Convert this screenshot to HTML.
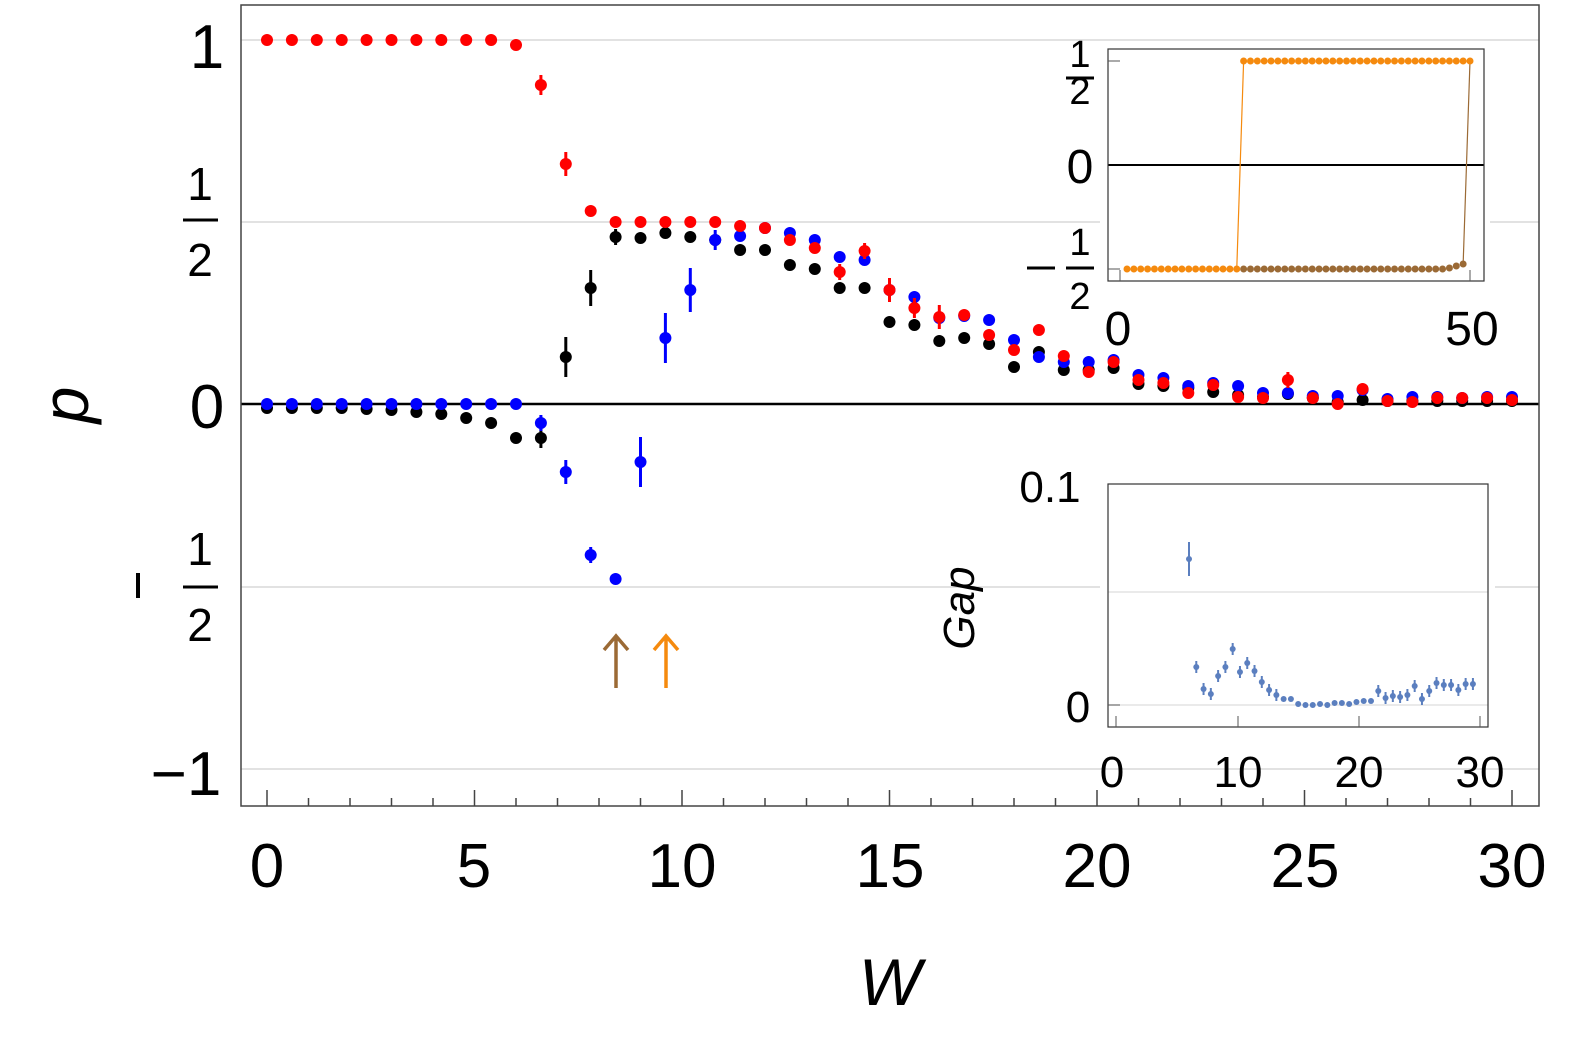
<!DOCTYPE html>
<html><head><meta charset="utf-8"><style>
body{margin:0;background:#fff}
svg text{font-family:"Liberation Sans",sans-serif}
</style></head><body>
<svg id="s" width="1578" height="1038" xmlns="http://www.w3.org/2000/svg">
<rect width="1578" height="1038" fill="#fff"/>
<g stroke="#d9d9d9" stroke-width="1.5">
<line x1="241" x2="1539" y1="40" y2="40"/><line x1="241" x2="1539" y1="222" y2="222"/>
<line x1="241" x2="1539" y1="587" y2="587"/><line x1="241" x2="1539" y1="769" y2="769"/>
</g>
<line x1="241" x2="1539" y1="404" y2="404" stroke="#000" stroke-width="2.5"/>
<rect x="241" y="5" width="1298" height="801" fill="none" stroke="#444" stroke-width="1.5"/>
<g id="ticks" stroke="#444" stroke-width="1.5"></g>
<g id="main"></g>
<g font-size="62" fill="#000" text-anchor="middle">
<text x="267" y="887">0</text><text x="474" y="887">5</text><text x="682" y="887">10</text>
<text x="890" y="887">15</text><text x="1097" y="887">20</text><text x="1305" y="887">25</text><text x="1512" y="887">30</text>
<text x="207" y="68">1</text><text x="207" y="428">0</text>
<text x="200" y="200" font-size="46">1</text><line x1="183" x2="218" y1="220" y2="220" stroke="#000" stroke-width="3"/><text x="200" y="276" font-size="46">2</text>
<text x="200" y="565" font-size="46">1</text><line x1="183" x2="218" y1="587" y2="587" stroke="#000" stroke-width="3"/><text x="200" y="641" font-size="46">2</text>
<line x1="138" x2="138" y1="573" y2="598" stroke="#000" stroke-width="4"/>
<text x="186" y="795">−1</text>
<text x="890" y="1005" font-style="italic" font-size="66">W</text>
<text x="0" y="0" font-style="italic" font-size="66" transform="translate(88,405) rotate(-90)">p</text>
</g>
<g stroke-width="3.5" fill="none">
<path d="M616 688V638M604 650L616 636L628 650" stroke="#9b6a35"/>
<path d="M666 688V638M654 650L666 636L678 650" stroke="#f58a0e"/>
</g>
<!-- inset 1 -->
<rect x="1100" y="46" width="390" height="240" fill="#fff"/>
<line x1="1108" x2="1484" y1="165" y2="165" stroke="#000" stroke-width="2"/>
<rect x="1108" y="49" width="376" height="232" fill="none" stroke="#333" stroke-width="1.2"/>
<g stroke="#555" stroke-width="1"><line x1="1108" x2="1120" y1="61" y2="61"/><line x1="1108" x2="1120" y1="269" y2="269"/><line x1="1120" x2="1120" y1="281" y2="270"/><line x1="1470" x2="1470" y1="281" y2="270"/></g>
<g id="in1"></g>
<g font-size="48" fill="#000" text-anchor="middle">
<text x="1080" y="67" font-size="38">1</text><line x1="1066" x2="1094" y1="78" y2="78" stroke="#000" stroke-width="3"/><text x="1080" y="104" font-size="38">2</text>
<text x="1080" y="183">0</text>
<text x="1080" y="255" font-size="38">1</text><line x1="1066" x2="1094" y1="268" y2="268" stroke="#000" stroke-width="3"/><text x="1080" y="309" font-size="38">2</text>
<line x1="1027" x2="1055" y1="268" y2="268" stroke="#000" stroke-width="3"/>
<text x="1118" y="345">0</text><text x="1472" y="345">50</text>
</g>
<!-- inset 2 -->
<rect x="1100" y="478" width="395" height="255" fill="#fff"/>
<line x1="1108" x2="1488" y1="592" y2="592" stroke="#ddd" stroke-width="1.2"/>
<line x1="1108" x2="1488" y1="705" y2="705" stroke="#ddd" stroke-width="1.2"/>
<rect x="1108" y="484" width="380" height="243" fill="none" stroke="#333" stroke-width="1.2"/>
<g stroke="#555" stroke-width="1"><line x1="1108" x2="1120" y1="705" y2="705"/><line x1="1116" x2="1116" y1="727" y2="716"/><line x1="1238" x2="1238" y1="727" y2="716"/><line x1="1359" x2="1359" y1="727" y2="716"/><line x1="1480" x2="1480" y1="727" y2="716"/></g>
<g id="in2"></g>
<g font-size="44" fill="#000" text-anchor="middle">
<text x="1050" y="502">0.1</text><text x="1078" y="722">0</text>
<text x="1112" y="787">0</text><text x="1238" y="787">10</text><text x="1359" y="787">20</text><text x="1480" y="787">30</text>
<text x="0" y="0" font-style="italic" transform="translate(974,608) rotate(-90)">Gap</text>
</g>
</svg>
<script>
const NS="http://www.w3.org/2000/svg";
function el(p,t,a){const e=document.createElementNS(NS,t);for(const k in a)e.setAttribute(k,a[k]);p.appendChild(e);return e;}
const tk=document.getElementById('ticks');
for(let w=0;w<=30;w++){const x=267+41.5*w;el(tk,'line',{x1:x,x2:x,y1:806,y2:w%5?798:790});}
const red=[40,40,40,40,40,40,40,40,40,40,45,85,164,211,222,222,222,222,222,226,228,240,248,272,251,290,308,317,315,335,350,330,356,372,362,380,383,393,385,397,398,380,398,404,389,401,402,398,398,398,400];
const blk=[408,408,408,408,409,410,412,414,418,423,438,438,357,288,237,238,233,237,240,250,250,265,269,288,288,322,325,341,338,344,367,352,370,370,368,384,386,388,392,395,397,394,398,402,400,401,401,401,401,401,401];
const blu=[404,404,404,404,404,404,404,404,404,404,404,423,472,555,579,462,338,290,240,236,228,233,240,257,260,290,297,318,316,320,340,357,362,362,360,375,378,386,383,386,393,393,396,396,390,399,397,397,398,397,397];
const errB={11:8,12:12,13:8,15:25,16:25,17:22,18:10};
const errK={11:10,12:20,13:18,14:8};
const errR={11:10,12:12,23:8,24:8,25:12,26:10,27:12,41:8};
const m=document.getElementById('main');
function series(d,c,err){d.forEach((y,i)=>{const x=267+24.9*i;const e=err[i]||(i>12&&i<40?4:0);if(e)el(m,'line',{x1:x,x2:x,y1:y-e,y2:y+e,stroke:c,'stroke-width':3});el(m,'circle',{cx:x,cy:y,r:6,fill:c});});}
series(blk,'#000',errK);series(blu,'#0000ff',errB);series(red,'#ff0000',errR);
const g1=document.getElementById('in1');
const sx=i=>1127+6.86*i;
el(g1,'polyline',{points:`${sx(16)},269 ${sx(17)},61`,stroke:'#f58a0e','stroke-width':1.2,fill:'none'});
el(g1,'polyline',{points:`${sx(49)},264 ${sx(50)},61`,stroke:'#9b6a35','stroke-width':1.2,fill:'none'});
for(let i=17;i<=49;i++){const y=i==49?264:i==48?266:i==47?268:269;el(g1,'circle',{cx:sx(i),cy:y,r:3.5,fill:'#9b6a35'});}
for(let i=0;i<=16;i++)el(g1,'circle',{cx:sx(i),cy:269,r:3.5,fill:'#f58a0e'});
for(let i=17;i<=50;i++)el(g1,'circle',{cx:sx(i),cy:61,r:3.5,fill:'#f58a0e'});
const g2=document.getElementById('in2');
const gp=[559,667,689,694,676,667,649,672,663,671,682,690,695,699,699,704,705,705,704,705,703,703,704,702,701,701,691,698,696,697,695,686,699,691,683,685,685,690,684,684];
gp.forEach((y,i)=>{const x=1189+7.28*i;const e=i==0?17:(y<700&&i!=13&&i!=14?6:0);if(e)el(g2,'line',{x1:x,x2:x,y1:y-e,y2:y+e,stroke:'#5b7fbf','stroke-width':2});el(g2,'circle',{cx:x,cy:y,r:3,fill:'#5b7fbf'});});
</script>
</body></html>
